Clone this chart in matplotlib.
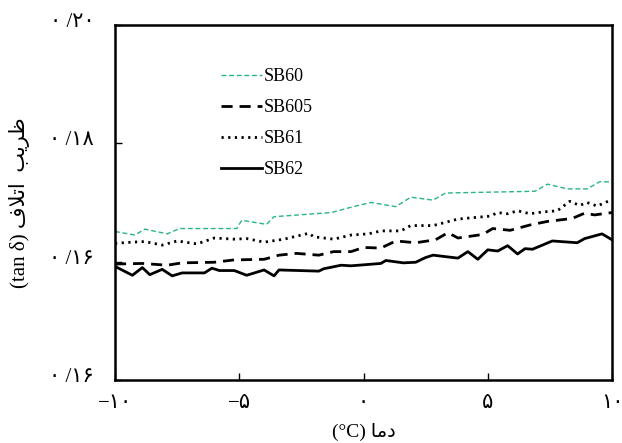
import matplotlib
matplotlib.use("Agg")
import matplotlib.pyplot as plt
import matplotlib.transforms as mtransforms

plt.rcParams['font.family'] = ['Liberation Serif', 'DejaVu Sans']

# temperature (°C) and tan delta
sb60_t = [-10.0, -9.2, -8.8, -7.9, -7.4, -5.1, -4.9, -3.9, -3.6, -1.3, -0.5,
          0.3, 1.3, 1.9, 2.8, 3.3, 6.9, 7.4, 8.2, 9.0, 9.5, 10.0]
sb60 = [0.1651, 0.1645, 0.1655, 0.1647, 0.1656, 0.1656, 0.1670, 0.1663, 0.1676, 0.1683, 0.1692,
        0.1700, 0.1693, 0.1709, 0.1704, 0.1716, 0.1719, 0.1731, 0.1723, 0.1723, 0.1735, 0.1735]

sb605_t = [-10.0, -8.9, -7.9, -7.3, -6.0, -5.2, -4.0, -3.4, -2.7, -1.8, -1.2, -0.5,
           0.0, 0.7, 1.3, 2.1, 2.9, 3.4, 3.8, 4.8, 5.2, 5.9, 6.7, 7.4, 8.4, 8.9, 9.3, 10.0]
sb605 = [0.1596, 0.1597, 0.1594, 0.1598, 0.1599, 0.1603, 0.1604, 0.1611, 0.1614, 0.1611, 0.1617, 0.1617,
         0.1624, 0.1623, 0.1635, 0.1632, 0.1637, 0.1649, 0.1640, 0.1646, 0.1656, 0.1653, 0.1662, 0.1668,
         0.1673, 0.1682, 0.1679, 0.1683]

sb61_t = [-10.0, -9.3, -8.8, -8.1, -7.5, -6.7, -6.0, -5.2, -4.7, -4.0, -3.2, -2.2, -2.0, -1.2,
          -0.5, 0.2, 0.7, 1.5, 1.9, 2.8, 3.8, 5.1, 5.4, 5.8, 6.2, 6.7, 7.2, 7.8, 8.3, 8.7,
          9.0, 9.4, 10.0]
sb61 = [0.1631, 0.1633, 0.1634, 0.1628, 0.1635, 0.1630, 0.1640, 0.1638, 0.1639, 0.1633, 0.1638,
        0.1648, 0.1642, 0.1638, 0.1645, 0.1647, 0.1652, 0.1652, 0.1661, 0.1661, 0.1672, 0.1677,
        0.1683, 0.1681, 0.1686, 0.1681, 0.1684, 0.1686, 0.1702, 0.1695, 0.1700, 0.1694, 0.1705]

sb62_t = [-10.0, -9.3, -8.9, -8.6, -8.1, -7.7, -7.3, -6.4, -6.1, -5.8, -5.2, -4.7, -4.0, -3.6,
          -3.4, -1.8, -1.6, -0.9, -0.5, 0.7, 0.9, 1.6, 2.1, 2.5, 2.8, 3.8, 4.2, 4.6, 5.0, 5.4,
          5.8, 6.2, 6.5, 6.8, 7.6, 8.6, 8.9, 9.6, 10.0]
sb62 = [0.1592, 0.1577, 0.1590, 0.1578, 0.1587, 0.1576, 0.1581, 0.1581, 0.1589, 0.1585, 0.1585,
        0.1577, 0.1586, 0.1576, 0.1586, 0.1584, 0.1588, 0.1594, 0.1593, 0.1597, 0.1602, 0.1598,
        0.1599, 0.1607, 0.1611, 0.1606, 0.1617, 0.1604, 0.1620, 0.1618, 0.1627, 0.1613, 0.1622,
        0.1621, 0.1635, 0.1632, 0.1639, 0.1647, 0.1637]

x_ticks = [-10, -5, 0, 5, 10]
x_labels = ['\u2212۱۰', '\u2212۵', '۰', '۵', '۱۰']
y_ticks = [0.14, 0.16, 0.18, 0.20]
y_labels = ['۰ /۱۶', '۰ /۱۶', '۰ /۱۸', '۰ /۲۰']

# Persian labels, pre-shaped (matplotlib has no RTL shaping)
# "دما" and "ضریب اتلاف"
x_title = '(°C) ' + '\uFE8E\uFEE3\uFEA9'
y_title = '(tan δ) ' + '\uFED1\uFEFC\uFE97\uFE8D' + '  ' + '\uFE90\uFEF3\uFEAE\uFEC7'

fig = plt.figure(figsize=(6.22, 4.43), dpi=100)
ax = fig.add_axes([115 / 622, 63 / 443, 497 / 622, 355 / 443])

ax.plot(sb60_t, sb60, color='#2ab585', lw=1.0, dashes=(3.5, 2), label='SB60')
ax.plot(sb605_t, sb605, color='black', lw=2.0, dashes=(4, 2.5), label='SB605')
ax.plot(sb61_t, sb61, color='black', lw=2.0, dashes=(0.8, 1.6), label='SB61')
ax.plot(sb62_t, sb62, color='black', lw=2.0, label='SB62')

ax.set_xlim(-10, 10)
ax.set_ylim(0.14, 0.20)
ax.set_xticks(x_ticks)
ax.set_xticklabels(x_labels)
ax.set_yticks(y_ticks)
ax.set_yticklabels(y_labels)
ax.tick_params(axis='both', direction='in', length=5, width=1, labelsize=15)
ax.tick_params(axis='x', pad=10)
ax.tick_params(axis='y', pad=15)

for s in ax.spines.values():
    s.set_linewidth(1.8)

# y labels sit a little above their ticks in the original
offset = mtransforms.ScaledTranslation(0, 5 / 100, fig.dpi_scale_trans)
for lab in ax.get_yticklabels():
    lab.set_transform(lab.get_transform() + offset)

ax.set_xlabel(x_title, fontsize=14, labelpad=7)
ax.set_ylabel(y_title, fontsize=15, labelpad=14)

ax.legend(loc='upper left', bbox_to_anchor=(0.18, 0.925), frameon=False, fontsize=13,
          handlelength=2.3, handletextpad=0.1, labelspacing=0.78)

plt.savefig('out.png', dpi=100)
